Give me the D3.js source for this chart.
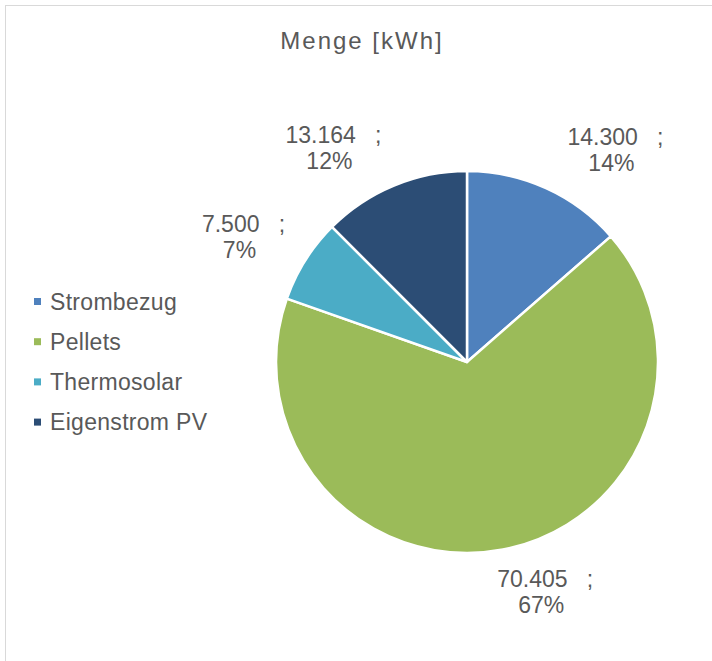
<!DOCTYPE html>
<html>
<head>
<meta charset="utf-8">
<script src="https://cdn.jsdelivr.net/npm/d3@7/dist/d3.min.js"></script>
<style>
  html, body { margin: 0; padding: 0; background: #fff; }
  svg { display: block; }
  text { font-family: "Liberation Sans", Arial, sans-serif; fill: #595959; }
</style>
</head>
<body>
<svg id="chart" width="712" height="661"></svg>
<script>
// ---- Data ----
const title = "Menge [kWh]";
const categories = ["Strombezug", "Pellets", "Thermosolar", "Eigenstrom PV"];
const values = [14300, 70405, 7500, 13164];
const valueLabels = ["14.300", "70.405", "7.500", "13.164"];
const percentLabels = ["14%", "67%", "7%", "12%"];
const colors = ["#4F81BD", "#9BBB59", "#4BACC6", "#2C4D75"];

// ---- Layout ----
const W = 712, H = 661;
const cx = 467, cy = 362, R = 191;
// label nudges (px) relative to outer centroid
const labelRadius = 250;
const labelNudge = [[45, 16], [31, -16], [-12, 8], [-38, 17]];

const svg = d3.select("#chart");

// border
svg.append("rect")
  .attr("x", 5.5).attr("y", 5.5)
  .attr("width", W + 20).attr("height", H + 20)
  .attr("fill", "none").attr("stroke", "#d9d9d9").attr("stroke-width", 1);

// title
svg.append("text")
  .attr("x", 362).attr("y", 49)
  .attr("text-anchor", "middle")
  .style("font-size", "24px")
  .style("letter-spacing", "2px")
  .text(title);

const data = categories.map((c, i) => ({ cat: c, value: values[i], i }));
const pie = d3.pie().value(d => d.value).sort(null);
const arcs = pie(data);
const arc = d3.arc().innerRadius(0).outerRadius(R);
const labelArc = d3.arc().innerRadius(labelRadius).outerRadius(labelRadius);

const g = svg.append("g").attr("transform", `translate(${cx},${cy})`);
g.selectAll("path.slice")
  .data(arcs)
  .join("path")
  .attr("class", "slice")
  .attr("d", arc)
  .attr("fill", d => colors[d.data.i])
  .attr("stroke", "#fff")
  .attr("stroke-width", 2.5)
  .attr("stroke-linejoin", "round");

// data labels
const lbl = g.selectAll("text.lbl")
  .data(arcs)
  .join("text")
  .attr("class", "lbl")
  .attr("text-anchor", "middle")
  .style("font-size", "23px")
  .attr("transform", d => {
    const [x, y] = labelArc.centroid(d);
    const n = labelNudge[d.data.i];
    return `translate(${x + n[0]},${y + n[1]})`;
  });
lbl.append("tspan")
  .attr("x", 0).attr("y", -5)
  .style("white-space", "pre")
  .text(d => valueLabels[d.data.i] + "   ;");
lbl.append("tspan")
  .attr("x", -4).attr("y", 21)
  .text(d => percentLabels[d.data.i]);

// legend
const legend = svg.append("g").attr("transform", "translate(34,0)");
const rows = legend.selectAll("g.row")
  .data(categories)
  .join("g")
  .attr("class", "row")
  .attr("transform", (d, i) => `translate(0,${309.5 + i * 40.2})`);
rows.append("rect")
  .attr("x", 0).attr("y", -11.5)
  .attr("width", 7).attr("height", 7)
  .attr("fill", (d, i) => colors[i]);
rows.append("text")
  .attr("x", 16).attr("y", 0)
  .style("font-size", "23px")
  .style("letter-spacing", "0.3px")
  .text(d => d);
</script>
</body>
</html>
